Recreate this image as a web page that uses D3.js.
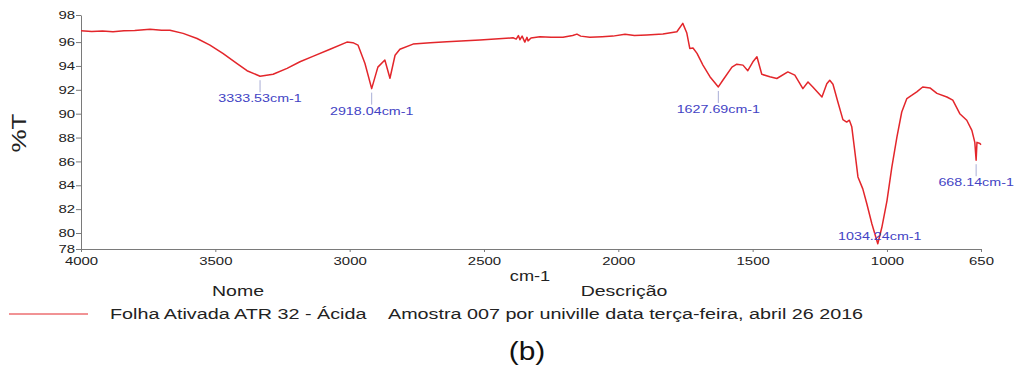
<!DOCTYPE html>
<html>
<head>
<meta charset="utf-8">
<script src="https://cdn.jsdelivr.net/npm/d3@7"></script>
<style>
  body { margin: 0; background: #fff; }
  svg { display: block; font-family: "Liberation Sans", Arial, sans-serif; }
</style>
</head>
<body>
<div id="chart"></div>
<script>
// spectrum (wavenumber cm-1, %T)
const wavenumbers = [4000, 3960, 3920, 3881, 3840, 3800, 3743, 3700, 3669, 3620, 3568, 3520, 3472, 3419, 3382,
  3333.53, 3285, 3233, 3185, 3137, 3073, 3010, 2988, 2969, 2943, 2918.04, 2895, 2869, 2850, 2831, 2813, 2764,
  2700, 2638, 2515, 2392, 2380, 2372, 2366, 2358, 2348, 2340, 2336, 2325, 2292, 2250, 2206, 2170, 2154, 2140,
  2106, 2060, 2020, 1975, 1940, 1894, 1834, 1782, 1760, 1745, 1734, 1722, 1707, 1685, 1659, 1627.69, 1611, 1577,
  1559, 1536, 1518, 1499, 1484, 1466, 1436, 1410, 1369, 1343, 1313, 1294, 1276, 1242, 1224, 1213, 1201, 1183,
  1164, 1150, 1140, 1131, 1120, 1108, 1090, 1075, 1056, 1034.24, 1019, 1000, 982, 963, 945, 926, 907, 889, 867,
  840, 814, 777, 755, 729, 703, 684, 673, 668.14, 665, 654, 650];
const transmittance = [96.95, 96.88, 96.92, 96.87, 96.95, 96.98, 97.07, 97.0, 97.0, 96.73, 96.3, 95.75, 95.05, 94.2, 93.6,
  93.14, 93.3, 93.8, 94.35, 94.8, 95.4, 96.0, 95.95, 95.75, 94.2, 92.1, 93.9, 94.5, 92.97, 94.9, 95.4, 95.83,
  95.95, 96.03, 96.17, 96.36, 96.25, 96.55, 96.2, 96.5, 96.0, 96.4, 96.1, 96.35, 96.45, 96.4, 96.4, 96.55, 96.67, 96.5,
  96.4, 96.45, 96.5, 96.65, 96.55, 96.6, 96.67, 96.87, 97.57, 96.76, 95.47, 95.5, 95.05, 94.07, 93.1, 92.24, 92.8, 93.9,
  94.15, 94.07, 93.6, 94.35, 94.77, 93.3, 93.1, 92.95, 93.5, 93.23, 92.1, 92.66, 92.24, 91.4, 92.5, 92.8, 92.47, 91.0,
  89.5, 89.3, 89.45, 88.9, 86.9, 84.7, 83.7, 82.45, 80.76, 79.1, 80.48, 82.7, 85.5, 88.04, 90.14, 91.27, 91.55, 91.83, 92.24,
  92.16, 91.7, 91.4, 91.13, 90.0, 89.45, 88.6, 87.6, 86.1, 87.6, 87.5, 87.4];

const peaks = [3333.53, 2918.04, 1627.69, 1034.24, 668.14];

const xTicks = [4000, 3500, 3000, 2500, 2000, 1500, 1000, 650];
const yTicks = [78.66, 80, 82, 84, 86, 88, 90, 92, 94, 96, 98.27];

const xTitle = 'cm-1';
const yTitle = '%T';
const legendHeads = ['Nome', 'Descrição'];
const sampleName = 'Folha Ativada ATR 32 - Ácida';
const sampleDesc = 'Amostra 007 por univille data terça-feira, abril 26 2016';
const caption = '(b)';

const W = 1019, H = 380;
const plot = { left: 81, right: 981, top: 15, bottom: 249 };
const SX = 1.3; // the figure is stretched horizontally

const svg = d3.select('#chart').append('svg').attr('width', W).attr('height', H);

const x = d3.scaleLinear().domain([4000, 650]).range([plot.left, plot.right]);
const y = d3.scaleLinear().domain([78.66, 98.27]).range([plot.bottom, plot.top]);

// axes
const xAxis = svg.append('g')
  .attr('transform', 'translate(0,' + plot.bottom + ')')
  .call(d3.axisBottom(x).tickValues(xTicks).tickSize(3).tickSizeOuter(0).tickPadding(5).tickFormat(d3.format('d')));
xAxis.selectAll('text').attr('transform', 'scale(' + SX + ',1)');

const yAxis = svg.append('g')
  .attr('transform', 'translate(' + plot.left + ',0)')
  .call(d3.axisLeft(y).tickValues(yTicks).tickSize(5).tickSizeOuter(0).tickFormat(d => Math.floor(d)));
yAxis.selectAll('text').attr('x', 0).attr('transform', 'translate(-6,0) scale(' + SX + ',1)');

svg.selectAll('.domain, .tick line').attr('stroke', '#7a7a7a');
svg.selectAll('.tick text').attr('fill', '#222').style('font-size', '11.5px');

// spectrum
const pts = wavenumbers.map((w, i) => [w, transmittance[i]]);
svg.append('path')
  .attr('d', d3.line().x(d => x(d[0])).y(d => y(d[1]))(pts))
  .attr('fill', 'none')
  .attr('stroke', '#e3262b')
  .attr('stroke-width', 1.5)
  .attr('stroke-linejoin', 'round');

// peak annotations
const minT = d3.min(transmittance);
peaks.forEach(p => {
  const t = transmittance[wavenumbers.indexOf(p)];
  const px = x(p), py = y(t);
  const txt = p.toFixed(2) + 'cm-1';
  if (t === minT) {
    svg.append('text')
      .attr('transform', 'translate(' + (px + 2) + ',' + (py - 4) + ') scale(' + SX + ',1)')
      .attr('text-anchor', 'middle')
      .attr('fill', '#4343c4')
      .style('font-size', '11px')
      .text(txt);
    return;
  }
  svg.append('line')
    .attr('x1', px).attr('x2', px)
    .attr('y1', py + 4).attr('y2', py + 16)
    .attr('stroke', '#a9aed6').attr('stroke-width', 1);
  svg.append('text')
    .attr('transform', 'translate(' + px + ',' + (py + 26) + ') scale(' + SX + ',1)')
    .attr('text-anchor', 'middle')
    .attr('fill', '#4343c4')
    .style('font-size', '11px')
    .text(txt);
});

// axis titles
svg.append('text')
  .attr('transform', 'translate(530,281) scale(' + SX + ',1)')
  .attr('text-anchor', 'middle')
  .style('font-size', '14px')
  .attr('fill', '#222')
  .text(xTitle);

svg.append('text')
  .attr('transform', 'translate(26,133) rotate(-90) scale(1.18,0.95)')
  .attr('text-anchor', 'middle')
  .style('font-size', '22px')
  .attr('fill', '#222')
  .text(yTitle);

// legend
svg.selectAll('.head')
  .data(legendHeads)
  .enter().append('text')
  .attr('class', 'head')
  .attr('transform', (d, i) => 'translate(' + [238, 624][i] + ',296) scale(' + SX + ',1)')
  .attr('text-anchor', 'middle')
  .style('font-size', '15px')
  .attr('fill', '#222')
  .text(d => d);

svg.append('line')
  .attr('x1', 9).attr('x2', 88).attr('y1', 314).attr('y2', 314)
  .attr('stroke', '#e3262b').attr('stroke-width', 1);

svg.append('text')
  .attr('transform', 'translate(110,319) scale(' + SX + ',1)')
  .style('font-size', '15.2px')
  .attr('fill', '#222')
  .text(sampleName);

svg.append('text')
  .attr('transform', 'translate(388,319) scale(' + SX + ',1)')
  .style('font-size', '15.2px')
  .attr('fill', '#222')
  .text(sampleDesc);

svg.append('text')
  .attr('transform', 'translate(527,360) scale(1.15,1)')
  .attr('text-anchor', 'middle')
  .style('font-size', '26px')
  .attr('fill', '#111')
  .text(caption);
</script>
</body>
</html>
